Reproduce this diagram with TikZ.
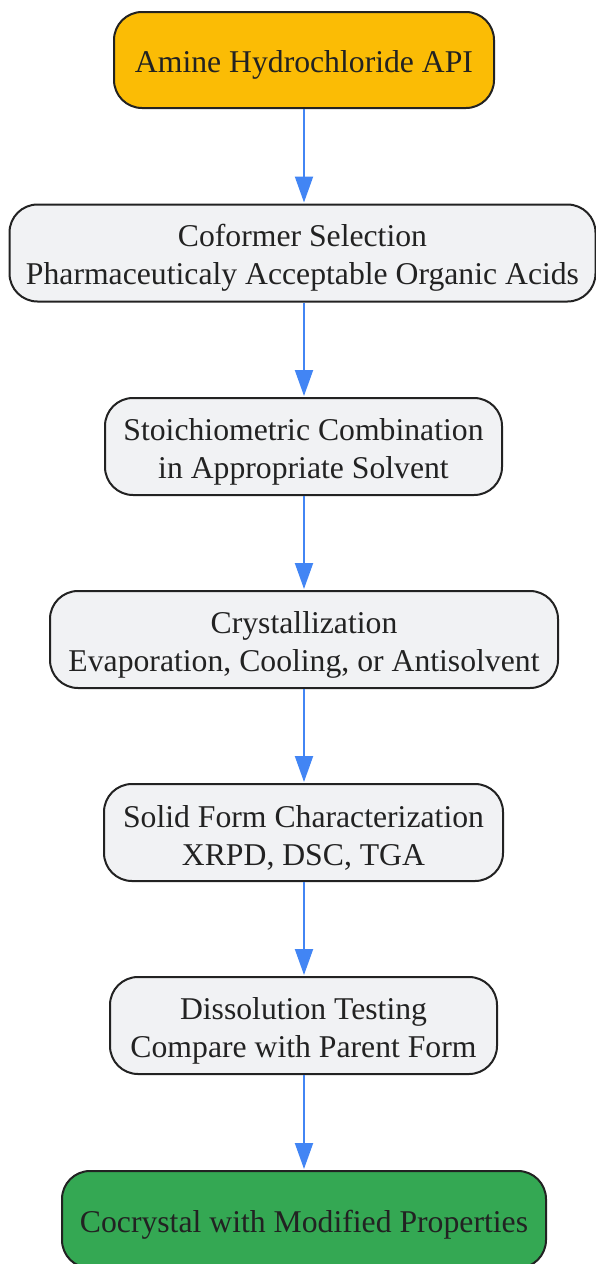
\documentclass[tikz,border=0pt]{standalone}
\usepackage{fontspec}
\setmainfont{Liberation Serif}
\usetikzlibrary{arrows.meta}
\definecolor{boxfill}{HTML}{F1F2F4}
\definecolor{boxline}{HTML}{222222}
\definecolor{startfill}{HTML}{FBBC05}
\definecolor{endfill}{HTML}{34A853}
\definecolor{arrowblue}{HTML}{4285F4}
\definecolor{txt}{HTML}{222222}
\begin{document}
\begin{tikzpicture}[x=1pt,y=-1pt,
  stepbox/.style={draw=boxline, line width=2pt, rounded corners=28pt, fill=boxfill,
    inner sep=0pt},
  steptext/.style={align=center, text=txt, font=\fontsize{31.7}{38}\selectfont, inner sep=0pt},
  flow/.style={draw=arrowblue, line width=2pt, -{Triangle[length=26pt,width=18pt]}, shorten >=1pt}]
\useasboundingbox (0,0) rectangle (596,1264);
\node[stepbox, fill=startfill, minimum width=380pt, minimum height=96pt] (n1) at (304,60) {};
\node[stepbox, minimum width=586pt, minimum height=97pt] (n2) at (302.5,253) {};
\node[stepbox, minimum width=397pt, minimum height=97pt] (n3) at (303.5,446.5) {};
\node[stepbox, minimum width=508pt, minimum height=97pt] (n4) at (304,639.5) {};
\node[stepbox, minimum width=399pt, minimum height=97pt] (n5) at (303.5,832.5) {};
\node[stepbox, minimum width=387pt, minimum height=97pt] (n6) at (303.5,1025.5) {};
\node[stepbox, fill=endfill, minimum width=484pt, minimum height=97pt] (n7) at (304,1219.5) {};
\node[steptext] (t1) at ([yshift=-5pt]n1.center) {Amine Hydrochloride API};
\node[steptext] (t2) at ([yshift=-5pt]n2.center) {Coformer Selection\\Pharmaceuticaly Acceptable Organic Acids};
\node[steptext] (t3) at ([yshift=-5pt]n3.center) {Stoichiometric Combination\\in Appropriate Solvent};
\node[steptext] (t4) at ([yshift=-5pt]n4.center) {Crystallization\\Evaporation, Cooling, or Antisolvent};
\node[steptext] (t5) at ([yshift=-5pt]n5.center) {Solid Form Characterization\\XRPD, DSC, TGA};
\node[steptext] (t6) at ([yshift=-5pt]n6.center) {Dissolution Testing\\Compare with Parent Form};
\node[steptext] (t7) at ([yshift=-5pt]n7.center) {Cocrystal with Modified Properties};
\draw[flow] (n1.south -| 304,0) -- (n2.north -| 304,0);
\draw[flow] (n2.south -| 304,0) -- (n3.north -| 304,0);
\draw[flow] (n3.south -| 304,0) -- (n4.north -| 304,0);
\draw[flow] (n4.south -| 304,0) -- (n5.north -| 304,0);
\draw[flow] (n5.south -| 304,0) -- (n6.north -| 304,0);
\draw[flow] (n6.south -| 304,0) -- (n7.north -| 304,0);
\end{tikzpicture}
\end{document}
